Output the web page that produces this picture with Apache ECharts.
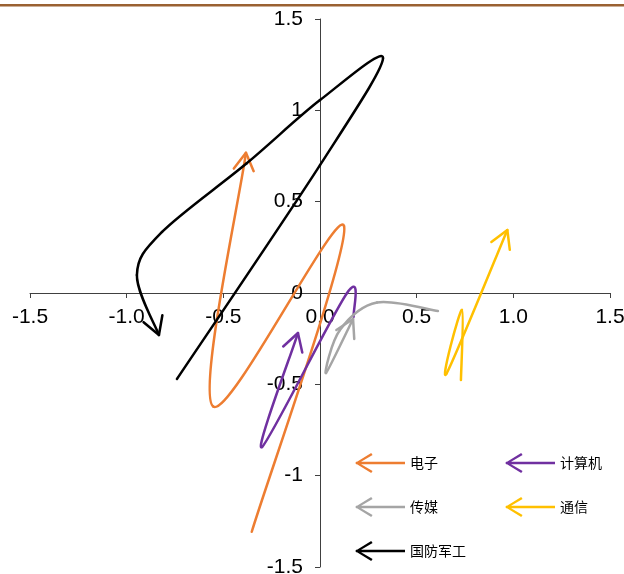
<!DOCTYPE html>
<html>
<head>
<meta charset="UTF-8">
<title>index</title>
<script src="https://cdn.jsdelivr.net/npm/echarts@6/dist/echarts.min.js"></script>
<style>
html,body{margin:0;padding:0;background:#fff;}
#main{width:624px;height:574px;}
</style>
</head>
<body>
<div id="main"></div>
<script>
const names = ['电子', '计算机', '传媒', '通信', '国防军工']
const colors = ['#ED7D31', '#7030A0', '#A5A5A5', '#FFC000', '#000000']

// 各行业轨迹 [x, y]，最后一个点画箭头
const dianzi = [[-0.353, -1.307], [0.124, 0.367], [-0.552, -0.622], [-0.383, 0.768]]
const jisuanji = [[0.174, -0.130], [0.140, 0.0], [-0.30, -0.843], [-0.114, -0.219]]
const chuanmei = [[0.61, -0.099], [0.295, -0.052], [0.103, -0.203], [0.031, -0.438], [0.171, -0.142]]
const tongxin = [[0.729, -0.476], [0.734, -0.093], [0.655, -0.440], [0.969, 0.345]]
const guofang = [[-0.740, -0.471], [0, 0.70], [0.326, 1.286], [0, 1.056], [-0.379, 0.710], [-0.817, 0.334], [-0.947, 0.099], [-0.833, -0.230]]

const allData = [dianzi, jisuanji, chuanmei, tongxin, guofang]
const axisMin = -1.5
const axisMax = 1.5
const axisStep = 0.5

// 图例：向左的箭头
const legendPath = 'path://M1,8.8 L50,8.8 L50,11.2 L1,11.2 Z M0,10 L16.2,0 L17.6,1.9 L2.2,11 Z M0,10 L2.2,9 L17.6,18.1 L16.2,20 Z'

const lineW = 2.5
const arrowLen = 20
const arrowAng = 30 * Math.PI / 180

let chart = echarts.init(document.getElementById('main'))

// 平滑曲线：每段用 catmull-rom 转成三次贝塞尔，最后一个点画开口箭头
function makeRender(pts, color) {
	return function(params, api) {
		let j = params.dataIndex
		let P = pts.map(d => api.coord(d))
		let n = P.length
		let style = { stroke: color, fill: null, lineWidth: lineW, lineCap: 'round', lineJoin: 'round' }
		if (j === n - 1) {
			let c = P[n - 1]
			let b = P[n - 2]
			let cp = [c[0] - (c[0] - b[0]) / 6, c[1] - (c[1] - b[1]) / 6]
			let ang = Math.atan2(c[1] - cp[1], c[0] - cp[0]) + Math.PI
			let a1 = [c[0] + arrowLen * Math.cos(ang + arrowAng), c[1] + arrowLen * Math.sin(ang + arrowAng)]
			let a2 = [c[0] + arrowLen * Math.cos(ang - arrowAng), c[1] + arrowLen * Math.sin(ang - arrowAng)]
			return { type: 'polyline', shape: { points: [a1, c, a2] }, style: style }
		}
		let p0 = P[j - 1] || P[j]
		let p1 = P[j]
		let p2 = P[j + 1]
		let p3 = P[j + 2] || P[j + 1]
		return {
			type: 'bezierCurve',
			shape: {
				x1: p1[0], y1: p1[1], x2: p2[0], y2: p2[1],
				cpx1: p1[0] + (p2[0] - p0[0]) / 6, cpy1: p1[1] + (p2[1] - p0[1]) / 6,
				cpx2: p2[0] - (p3[0] - p1[0]) / 6, cpy2: p2[1] - (p3[1] - p1[1]) / 6
			},
			style: style
		}
	}
}

let series = []
for (let i = 0; i < names.length; i++) {
	series.push({
		name: names[i],
		type: 'custom',
		coordinateSystem: 'cartesian2d',
		silent: true,
		animation: false,
		clip: false,
		itemStyle: { color: colors[i] },
		encode: { x: 0, y: 1 },
		renderItem: makeRender(allData[i], colors[i]),
		data: allData[i]
	})
}

const labelFont = 'Liberation Sans, Arial, sans-serif'
const axisColor = '#404040'
const legendText = { fontFamily: 'Noto Sans CJK SC', fontSize: 14, color: '#000' }

let option = {
	animation: false,
	grid: { left: 30, right: 14, top: 19, bottom: 7, outerBoundsMode: 'none', containLabel: false },
	graphic: [{
		type: 'rect', left: 0, top: 4,
		shape: { width: 624, height: 2.5 },
		style: { fill: '#9A6132' }
	}],
	legend: [
		{ left: 350, top: 448, orient: 'vertical', itemGap: 24, itemWidth: 50, itemHeight: 20, icon: legendPath,
			itemStyle: { borderWidth: 0 }, textStyle: legendText,
			data: ['电子', '传媒', '国防军工'] },
		{ left: 500, top: 448, orient: 'vertical', itemGap: 24, itemWidth: 50, itemHeight: 20, icon: legendPath,
			itemStyle: { borderWidth: 0 }, textStyle: legendText,
			data: ['计算机', '通信'] }
	],
	xAxis: {
		type: 'value', min: axisMin, max: axisMax, interval: axisStep,
		offset: -274,
		axisLine: { onZero: false, lineStyle: { color: axisColor, width: 1 } },
		axisTick: { show: true, length: 5, lineStyle: { color: axisColor } },
		axisLabel: { formatter: v => v.toFixed(1), fontSize: 21, color: '#000', margin: 14, fontFamily: labelFont },
		splitLine: { show: false }
	},
	yAxis: {
		type: 'value', min: axisMin, max: axisMax, interval: axisStep,
		offset: -290,
		axisLine: { onZero: false, lineStyle: { color: axisColor, width: 1 } },
		axisTick: { show: true, length: 5, lineStyle: { color: axisColor } },
		axisLabel: { fontSize: 21, color: '#000', margin: 17, fontFamily: labelFont },
		splitLine: { show: false }
	},
	series: series
}
chart.setOption(option)
</script>
</body>
</html>
